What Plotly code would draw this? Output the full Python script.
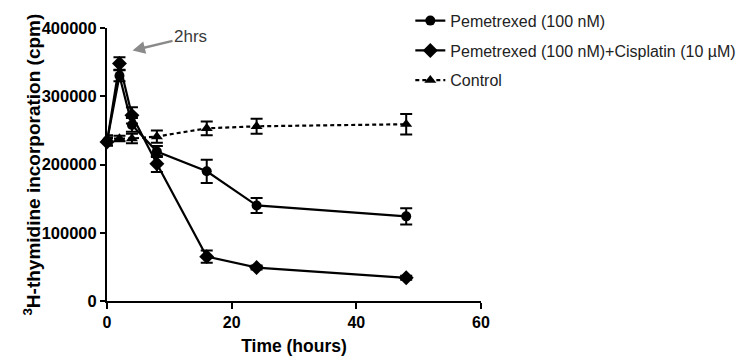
import plotly.graph_objects as go

time_h = [0, 2, 4, 8, 16, 24, 48]
pem = [234000, 330000, 258000, 219000, 190000, 140000, 124000]
pem_err = [6000, 8000, 10000, 8000, 17000, 11000, 12000]
combo = [233000, 348000, 272000, 201000, 65000, 49000, 34000]
combo_err = [5000, 9000, 12000, 12000, 9000, 3000, 3000]
ctrl = [238000, 238000, 238000, 241000, 253000, 256000, 259000]
ctrl_err = [5000, 4000, 7000, 9000, 10000, 11000, 15000]

names = ["Pemetrexed (100 nM)", "Pemetrexed (100 nM)+Cisplatin (10 µM)", "Control"]
x_ticks = [0, 20, 40, 60]
y_ticks = [0, 100000, 200000, 300000, 400000]

FONT = "Liberation Sans, Arial, sans-serif"

fig = go.Figure()

def add(y, err, name, symbol, size, dash, group):
    fig.add_trace(go.Scatter(
        x=time_h, y=y, name=name, mode="lines+markers",
        line=dict(color="black", width=2.2, dash=dash),
        marker=dict(color="black", symbol=symbol, size=size),
        error_y=dict(type="data", array=err, visible=True, color="black", thickness=2, width=6),
        cliponaxis=False, legendgroup=group,
    ))

add(pem, pem_err, names[0], "circle", 10, "solid", "a")
add(combo, combo_err, names[1], "diamond", 11.5, "solid", "b")
add(ctrl, ctrl_err, names[2], "triangle-up", 10.5, "4px,3px", "c")

fig.add_annotation(
    x=4.1, y=367000, xref="x", yref="y",
    text="2hrs", showarrow=True, ax=58, ay=-14,
    arrowhead=2, arrowsize=1, arrowwidth=2.5, arrowcolor="#8a8a8a",
    font=dict(family=FONT, size=17, color="#3a3a3a"),
)

fig.add_annotation(
    x=-0.203, y=0.5, xref="paper", yref="paper", xanchor="center", yanchor="middle",
    text="<sup>3</sup>H-thymidine incorporation (cpm)", textangle=-90, showarrow=False,
    font=dict(family=FONT, size=19, weight="bold", color="black"),
)

fig.update_layout(
    width=750, height=360,
    margin=dict(l=99, r=277, t=19.5, b=66.5, autoexpand=False),
    plot_bgcolor="white", paper_bgcolor="white",
    font=dict(family=FONT, color="black"),
    showlegend=True,
    legend=dict(
        x=0.811, y=1.089, xanchor="left", yanchor="top",
        font=dict(family=FONT, size=16, color="#222222"),
        tracegroupgap=6, bgcolor="rgba(0,0,0,0)",
    ),
    xaxis=dict(
        range=[0, 60], tickvals=x_ticks, ticktext=[str(v) for v in x_ticks],
        showline=True, linecolor="black", linewidth=2,
        ticks="outside", ticklen=6, tickwidth=2, tickcolor="black",
        showgrid=False, zeroline=False,
        tickfont=dict(family=FONT, size=16, weight="bold"),
        title=dict(text="Time (hours)", font=dict(family=FONT, size=17.5, weight="bold"), standoff=10),
    ),
    yaxis=dict(
        range=[0, 400000], tickvals=y_ticks, tickformat="d",
        showline=True, linecolor="black", linewidth=2,
        ticks="outside", ticklen=5, tickwidth=2, tickcolor="black",
        showgrid=False, zeroline=False,
        tickfont=dict(family=FONT, size=16.5, weight="bold"),
    ),
)

fig.write_html("out.html")
